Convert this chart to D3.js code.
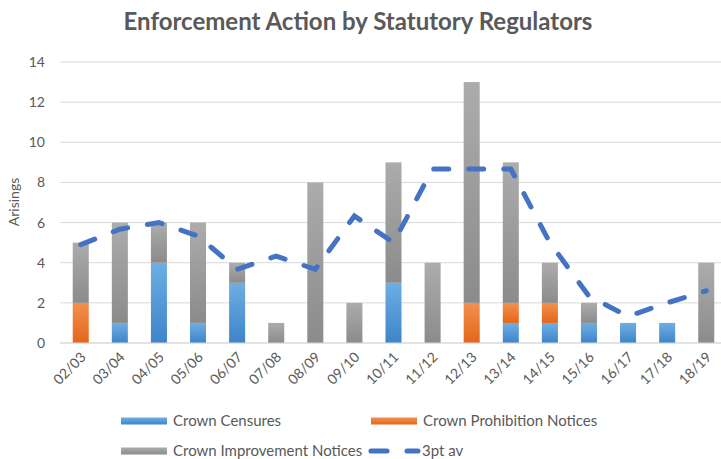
<!DOCTYPE html>
<html>
<head>
<meta charset="utf-8">
<script src="https://cdn.jsdelivr.net/npm/d3@7"></script>
<style>
  body { margin: 0; background: #fff; }
  text { font-family: Lato, "Open Sans", sans-serif; fill: #595959; }
</style>
</head>
<body>
<script>
var years = ["02/03","03/04","04/05","05/06","06/07","07/08","08/09","09/10","10/11","11/12","12/13","13/14","14/15","15/16","16/17","17/18","18/19"];
var censures    = [0,1,4,1,3,0,0,0,3,0,0,1,1,1,1,1,0];
var prohibition = [2,0,0,0,0,0,0,0,0,0,2,1,1,0,0,0,0];
var improvement = [3,5,2,5,1,1,8,2,6,4,11,7,2,1,0,0,4];
var avg3 = [4.9,5.67,6,5.33,3.67,4.33,3.67,6.33,5,8.67,8.67,8.67,5,2.33,1.33,2,2.6];
var yTicks = [0,2,4,6,8,10,12,14];

var w = 721, h = 459;
var plotLeft = 60, plotRight = 721, plotTop = 62, plotBottom = 343;

var svg = d3.select("body").append("svg")
    .attr("width", w)
    .attr("height", h);

var defs = svg.append("defs");
function grad(id, c1, c2) {
  var g = defs.append("linearGradient").attr("id", id)
    .attr("x1", 0).attr("y1", 0).attr("x2", 0).attr("y2", 1);
  g.append("stop").attr("offset", "0%").attr("stop-color", c1);
  g.append("stop").attr("offset", "100%").attr("stop-color", c2);
}
grad("gBlue", "#6eaee3", "#3d84c9");
grad("gOrange", "#f2904f", "#e4661b");
grad("gGray", "#acacac", "#8b8b8b");

var x = d3.scaleBand().domain(years).range([61, 726]).paddingInner(0.59).paddingOuter(0.3);
var y = d3.scaleLinear().domain([0, 14]).range([plotBottom, plotTop]);

// gridlines
svg.selectAll(".grid").data(yTicks).enter().append("line")
  .attr("x1", plotLeft).attr("x2", plotRight)
  .attr("y1", function(d) { return y(d); })
  .attr("y2", function(d) { return y(d); })
  .attr("stroke", "#d9d9d9").attr("stroke-width", 1);

// y labels
svg.selectAll(".ylab").data(yTicks).enter().append("text")
  .attr("x", 45).attr("y", function(d) { return y(d) + 5; })
  .attr("text-anchor", "end").attr("font-size", "14px")
  .text(function(d) { return d; });

svg.append("text")
  .attr("transform", "translate(19,202) rotate(-90)")
  .attr("text-anchor", "middle").attr("font-size", "14px")
  .text("Arisings");

// stacked bars
var rows = years.map(function(yr, i) {
  return { year: yr, censures: censures[i], prohibition: prohibition[i], improvement: improvement[i] };
});
var keys = ["censures", "prohibition", "improvement"];
var fills = { censures: "url(#gBlue)", prohibition: "url(#gOrange)", improvement: "url(#gGray)" };
var stack = d3.stack().keys(keys)(rows);

svg.selectAll(".layer").data(stack).enter().append("g")
  .attr("fill", function(d) { return fills[d.key]; })
  .selectAll("rect")
  .data(function(d) { return d.filter(function(p) { return p[1] > p[0]; }); })
  .enter().append("rect")
  .attr("x", function(d) { return x(d.data.year); })
  .attr("y", function(d) { return y(d[1]); })
  .attr("width", x.bandwidth())
  .attr("height", function(d) { return y(d[0]) - y(d[1]); });

// axis line
svg.append("line").attr("x1", plotLeft).attr("x2", plotRight)
  .attr("y1", plotBottom).attr("y2", plotBottom)
  .attr("stroke", "#d9d9d9");

// x labels
svg.selectAll(".xlab").data(years).enter().append("text")
  .attr("text-anchor", "end").attr("font-size", "14px")
  .attr("transform", function(d) {
    return "translate(" + (x(d) + x.bandwidth() / 2 + 6) + "," + (plotBottom + 15) + ") rotate(-45)";
  })
  .text(function(d) { return d; });

// 3pt average line
var line = d3.line()
  .x(function(d, i) { return x(years[i]) + x.bandwidth() / 2; })
  .y(function(d) { return y(d); });
svg.append("path").datum(avg3)
  .attr("d", line)
  .attr("fill", "none")
  .attr("stroke", "#4472c4")
  .attr("stroke-width", 5)
  .attr("stroke-linecap", "round")
  .attr("stroke-dasharray", "15,20");

// title
svg.append("text")
  .attr("x", 358).attr("y", 30)
  .attr("text-anchor", "middle")
  .attr("font-size", "24px").attr("font-weight", "bold")
  .text("Enforcement Action by Statutory Regulators");

// legend
var legend = [
  { name: "Crown Censures", fill: "url(#gBlue)", x: 121, y: 421 },
  { name: "Crown Prohibition Notices", fill: "url(#gOrange)", x: 371, y: 421 },
  { name: "Crown Improvement Notices", fill: "url(#gGray)", x: 121, y: 451 }
];
var lg = svg.selectAll(".leg").data(legend).enter().append("g");
lg.append("rect")
  .attr("x", function(d) { return d.x; })
  .attr("y", function(d) { return d.y - 3.5; })
  .attr("width", 46).attr("height", 7)
  .attr("fill", function(d) { return d.fill; });
lg.append("text")
  .attr("x", function(d) { return d.x + 52; })
  .attr("y", function(d) { return d.y + 5; })
  .attr("font-size", "15px")
  .text(function(d) { return d.name; });

svg.append("line")
  .attr("x1", 371).attr("x2", 418).attr("y1", 451).attr("y2", 451)
  .attr("stroke", "#4472c4").attr("stroke-width", 5)
  .attr("stroke-linecap", "round").attr("stroke-dasharray", "16,20");
svg.append("text").attr("x", 422).attr("y", 456)
  .attr("font-size", "15px").text("3pt av");
</script>
</body>
</html>
